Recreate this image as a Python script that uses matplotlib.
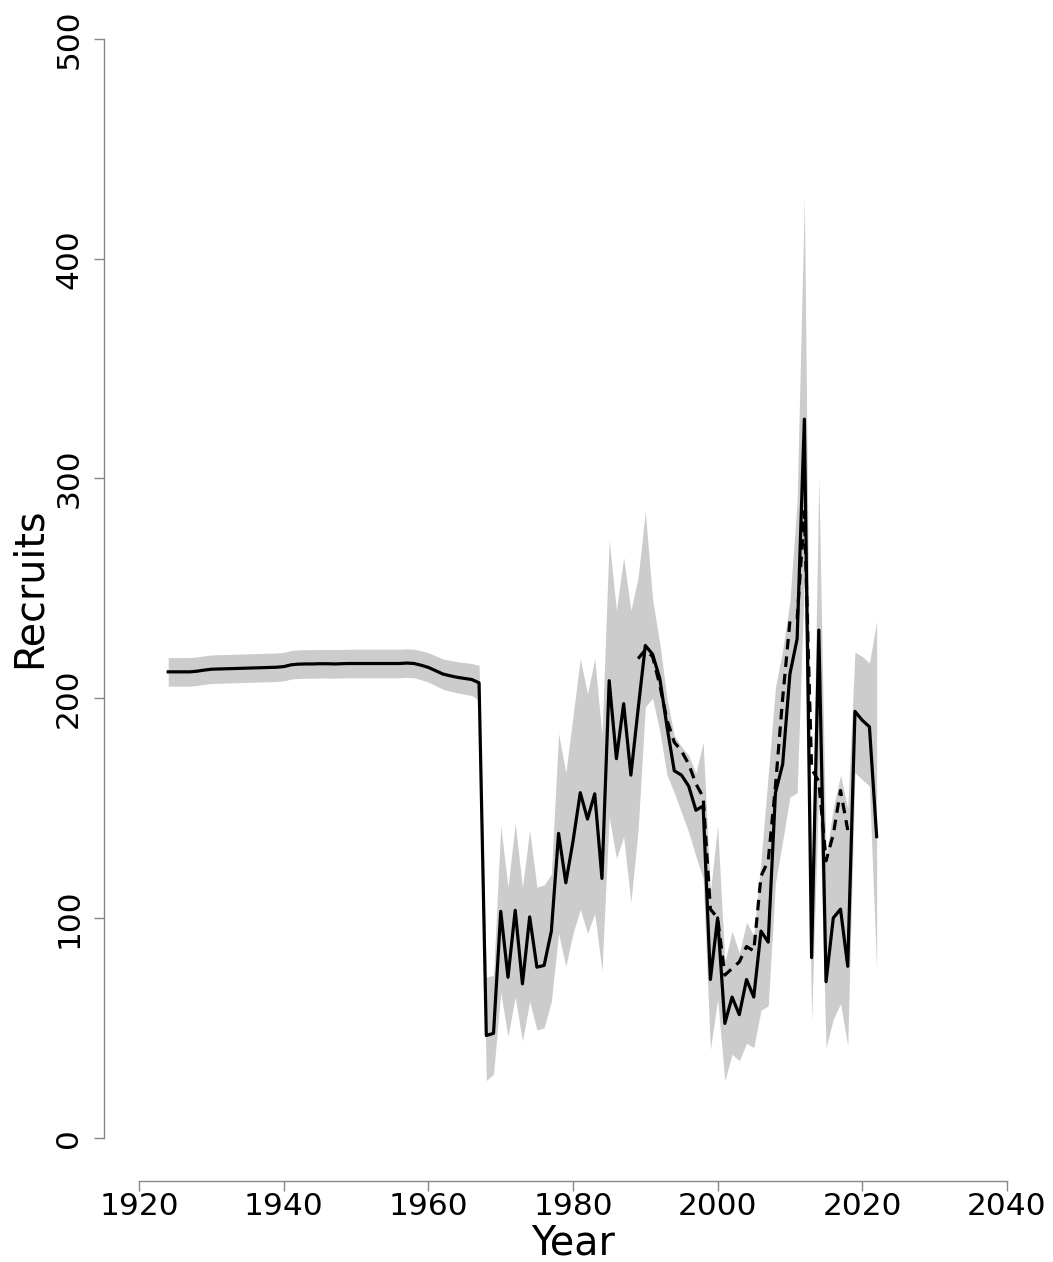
import numpy as np
import matplotlib.pyplot as plt

# recruitment estimates
years = np.arange(1924, 2023)
recruits = [
    212.0, 212.0, 212.0, 212.0, 212.3, 212.8, 213.2, 213.3, 213.4, 213.5,
    213.6, 213.7, 213.8, 213.9, 214.0, 214.1, 214.4, 215.2, 215.5, 215.6,
    215.6, 215.7, 215.7, 215.6, 215.7, 215.8, 215.8, 215.8, 215.8, 215.8,
    215.8, 215.8, 215.8, 216.0, 215.8, 215.0, 214.0, 212.5, 211.0, 210.2,
    209.5, 209.0, 208.5, 207.0, 46.5, 47.5, 103.0, 73.0, 103.5, 70.0,
    100.5, 77.6, 78.4, 94.0, 138.5, 116.0, 135.0, 157.0, 145.0, 156.5,
    118.0, 208.0, 172.5, 197.5, 165.0, 195.0, 224.0, 220.0, 209.0, 187.0,
    167.0, 165.0, 160.0, 149.0, 151.0, 72.0, 100.0, 52.0, 64.0, 56.0,
    72.0, 64.0, 94.0, 89.0, 157.0, 170.0, 211.0, 227.0, 327.0, 82.0,
    231.0, 71.0, 100.0, 104.0, 78.0, 194.0, 190.0, 187.0, 137.0,
]
lower = [
    205.5, 205.5, 205.5, 205.5, 205.8, 206.3, 206.7, 206.8, 206.9, 207.0,
    207.1, 207.2, 207.3, 207.4, 207.5, 207.6, 207.9, 208.7, 209.0, 209.1,
    209.1, 209.2, 209.2, 209.1, 209.2, 209.3, 209.3, 209.3, 209.3, 209.3,
    209.3, 209.3, 209.3, 209.5, 209.3, 208.4, 207.3, 205.7, 204.1, 203.2,
    202.4, 201.8, 201.2, 199.0, 26.0, 29.0, 66.0, 46.0, 64.0, 44.0,
    62.0, 49.0, 50.0, 62.0, 93.0, 78.0, 93.0, 104.0, 93.0, 102.0,
    76.0, 146.0, 127.0, 137.0, 107.0, 140.0, 196.0, 200.0, 185.0, 165.0,
    157.0, 148.0, 139.0, 128.0, 118.0, 40.0, 63.0, 26.0, 38.0, 35.0,
    43.0, 41.0, 58.0, 60.0, 116.0, 135.0, 155.0, 157.0, 255.0, 53.0,
    160.0, 41.0, 54.0, 61.0, 42.0, 166.0, 163.0, 160.0, 76.0,
]
upper = [
    218.5, 218.5, 218.5, 218.5, 218.8, 219.3, 219.7, 219.8, 219.9, 220.0,
    220.1, 220.2, 220.3, 220.4, 220.5, 220.6, 220.9, 221.7, 222.0, 222.1,
    222.1, 222.2, 222.2, 222.1, 222.2, 222.3, 222.3, 222.3, 222.3, 222.3,
    222.3, 222.3, 222.3, 222.5, 222.3, 221.6, 220.7, 219.3, 217.9, 217.2,
    216.6, 216.2, 215.8, 215.0, 73.0, 74.0, 142.0, 114.0, 143.0, 114.0,
    140.0, 114.0, 115.0, 120.0, 184.0, 166.0, 192.0, 218.0, 202.0, 218.0,
    183.0, 272.0, 240.0, 264.0, 240.0, 255.0, 285.0, 245.0, 225.0, 200.0,
    183.0, 178.0, 174.0, 166.0, 180.0, 112.0, 142.0, 80.0, 94.0, 84.0,
    98.0, 92.0, 126.0, 165.0, 205.0, 222.0, 244.0, 290.0, 428.0, 115.0,
    301.0, 128.0, 150.0, 165.0, 150.0, 221.0, 219.0, 216.0, 235.0,
]

# second (dashed) run
alt_years = np.arange(1989, 2019)
recruits_alt = [
    218.0, 222.0, 219.0, 206.0, 190.0, 180.0, 176.0, 170.0, 161.0, 155.0,
    104.0, 100.0, 74.0, 77.0, 80.0, 87.0, 85.0, 119.0, 126.0, 160.0,
    200.0, 235.0, 236.0, 285.0, 168.0, 162.0, 126.0, 138.0, 158.0, 140.0,
]

xticks = [1920, 1940, 1960, 1980, 2000, 2020, 2040]
yticks = [0, 100, 200, 300, 400, 500]

fig = plt.figure(figsize=(10.53, 12.62), dpi=100)
ax = fig.add_axes([0.0988, 0.0642, 0.8908, 0.9358])

ax.fill_between(years, lower, upper, color='#cccccc', linewidth=0, zorder=1)
ax.plot(alt_years, recruits_alt, color='black', lw=2.3, ls=(0, (3.3, 2.2)), zorder=2)
ax.plot(years, recruits, color='black', lw=2.3, zorder=3)

ax.set_xlim(1915.12, 2044.88)
ax.set_ylim(-19.7, 517.75)

for side in ['top', 'right']:
    ax.spines[side].set_visible(False)
for side in ['left', 'bottom']:
    ax.spines[side].set_color('#888888')
    ax.spines[side].set_linewidth(1.0)
ax.spines['left'].set_bounds(0, 500)
ax.spines['bottom'].set_bounds(1920, 2040)

ax.set_xticks(xticks)
ax.set_xticklabels([str(t) for t in xticks])
ax.set_yticks(yticks)
ax.set_yticklabels([str(t) for t in yticks], rotation=90, va='center')
ax.tick_params(axis='both', direction='out', length=7, width=1.0,
               color='#888888', labelsize=22.5)
ax.tick_params(axis='x', pad=1)
ax.tick_params(axis='y', pad=8)

ax.set_xlabel('Year', fontsize=28.5)
ax.set_ylabel('Recruits', fontsize=28.5)
ax.xaxis.set_label_coords(0.5, -0.0364)
ax.yaxis.set_label_coords(-0.0576, 0.502)

fig.savefig('out.png', dpi=100)
